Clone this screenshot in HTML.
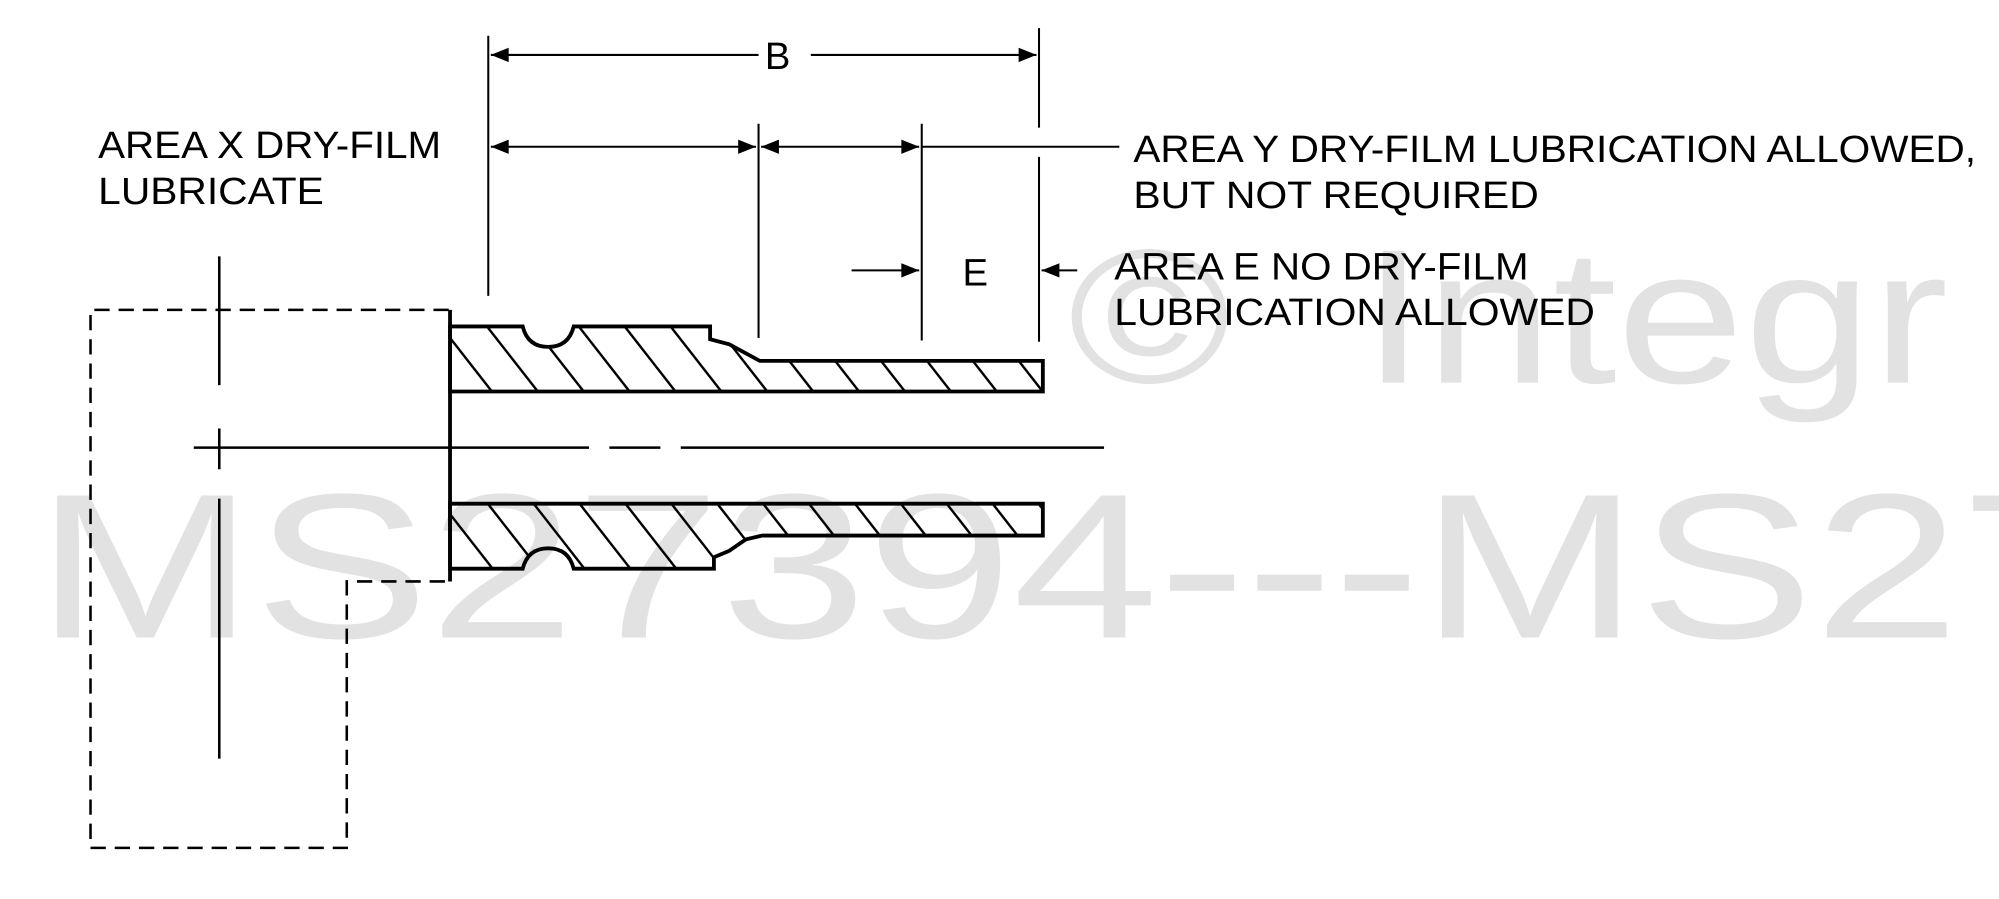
<!DOCTYPE html>
<html><head><meta charset="utf-8"><style>
html,body{margin:0;padding:0;background:#fff;width:1999px;height:899px;overflow:hidden}
svg{display:block}
text{font-family:"Liberation Sans",Arial,sans-serif}
</style></head><body>
<svg width="1999" height="899" viewBox="0 0 1568 705" xmlns="http://www.w3.org/2000/svg">
<defs>
<pattern id="h" patternUnits="userSpaceOnUse" width="36" height="400" patternTransform="skewX(38)">
<line x1="2" y1="0" x2="2" y2="400" stroke="#000" stroke-width="2.4"/>
</pattern>
<marker id="a" viewBox="0 0 10 10" refX="10" refY="5" markerWidth="28" markerHeight="14" markerUnits="userSpaceOnUse" orient="auto-start-reverse">
<path d="M0,1 L10,5 L0,9 z" fill="#000"/>
</marker>
</defs>
<g fill="#e2e2e2">
<text x="838" y="300" font-size="150" transform="translate(838,0) scale(1.15,1) translate(-838,0)">©</text>
<text x="1068" y="300" font-size="150" transform="translate(1068,0) scale(1.2,1) translate(-1068,0)">Integr</text>
<text x="28" y="500" font-size="162" transform="translate(28,0) scale(1.27,1) translate(-28,0)">MS27394---MS27</text>
</g>
<g stroke="#000" fill="none">
<path d="M352,243 H71 V665 H272 V456 H352" stroke-width="2" stroke-dasharray="12,7"/>
<path d="M172,201 V302 M172,336 V368 M172,391 V595" stroke-width="2"/>
<path d="M152,351 H462 M478,351 H518 M534,351 H866" stroke-width="2"/>
<path d="M353,256 H410 Q414,272 430,272 Q446,272 450,256 H557 V266 L572,270 L596,283 H818 V307 H353 Z" fill="url(#h)" stroke-width="3"/>
<path d="M353,395 H818 V420 H598 L585,423 L572,432 L560,437 V446 H450 Q446,430 430,430 Q414,430 410,446 H353 Z" fill="url(#h)" stroke-width="3"/>
<path d="M353,243 V456" stroke-width="3"/>
<path d="M383,28 V232 M595,97 V265 M723,97 V267 M815,22 V100 M815,123 V268" stroke-width="1.6"/>
<path d="M385,43 H595" stroke-width="1.6" marker-start="url(#a)"/>
<path d="M636,43 H813" stroke-width="1.6" marker-end="url(#a)"/>
<path d="M385,115 H593" stroke-width="1.6" marker-start="url(#a)" marker-end="url(#a)"/>
<path d="M597,115 H721" stroke-width="1.6" marker-start="url(#a)" marker-end="url(#a)"/>
<path d="M723,115 H878" stroke-width="1.6"/>
<path d="M668,212 H721" stroke-width="1.6" marker-end="url(#a)"/>
<path d="M845,212 H817" stroke-width="1.6" marker-end="url(#a)"/>
</g>
<g font-size="30" fill="#000">
<text x="600" y="54">B</text>
<text x="755" y="224">E</text>
<text x="77" y="124" textLength="269" lengthAdjust="spacingAndGlyphs">AREA X DRY-FILM</text>
<text x="77" y="160" textLength="177" lengthAdjust="spacingAndGlyphs">LUBRICATE</text>
<text x="889" y="127" textLength="661" lengthAdjust="spacingAndGlyphs">AREA Y DRY-FILM LUBRICATION ALLOWED,</text>
<text x="889" y="163" textLength="318" lengthAdjust="spacingAndGlyphs">BUT NOT REQUIRED</text>
<text x="874" y="219" textLength="325" lengthAdjust="spacingAndGlyphs">AREA E NO DRY-FILM</text>
<text x="874" y="255" textLength="377" lengthAdjust="spacingAndGlyphs">LUBRICATION ALLOWED</text>
</g>
</svg>
</body></html>
